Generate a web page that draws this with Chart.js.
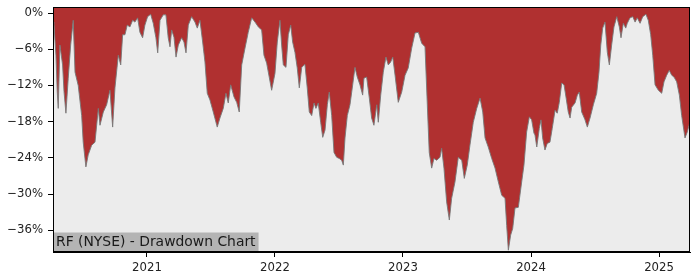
<!DOCTYPE html>
<html>
<head>
<meta charset="utf-8">
<script src="https://cdn.jsdelivr.net/npm/chart.js@4"></script>
<style>
  html, body { margin: 0; padding: 0; background: #fff; }
  #wrap { width: 700px; height: 280px; }
</style>
</head>
<body>
<div id="wrap"><canvas id="chart"></canvas></div>
<script>
// decimal years
const years = [
  2020.266, 2020.273, 2020.289, 2020.299, 2020.307, 2020.320, 2020.341, 2020.352, 2020.367, 2020.385,
  2020.404, 2020.424, 2020.438, 2020.463, 2020.490, 2020.502, 2020.523, 2020.541, 2020.568, 2020.594,
  2020.620, 2020.633, 2020.659, 2020.685, 2020.711, 2020.732, 2020.750, 2020.776, 2020.795, 2020.810,
  2020.828, 2020.846, 2020.867, 2020.888, 2020.906, 2020.927, 2020.945, 2020.966, 2020.984, 2021.005,
  2021.029, 2021.049, 2021.070, 2021.084, 2021.102, 2021.127, 2021.148, 2021.166, 2021.180, 2021.193,
  2021.211, 2021.227, 2021.245, 2021.271, 2021.289, 2021.305, 2021.323, 2021.349, 2021.375, 2021.393,
  2021.414, 2021.435, 2021.453, 2021.471, 2021.492, 2021.518, 2021.549, 2021.570, 2021.596, 2021.617,
  2021.635, 2021.654, 2021.680, 2021.701, 2021.721, 2021.740, 2021.766, 2021.791, 2021.818, 2021.844,
  2021.870, 2021.896, 2021.914, 2021.935, 2021.955, 2021.974, 2022.000, 2022.018, 2022.039, 2022.052,
  2022.065, 2022.086, 2022.104, 2022.123, 2022.138, 2022.156, 2022.174, 2022.190, 2022.209, 2022.234,
  2022.252, 2022.268, 2022.287, 2022.305, 2022.320, 2022.338, 2022.357, 2022.373, 2022.391, 2022.409,
  2022.424, 2022.443, 2022.461, 2022.482, 2022.502, 2022.521, 2022.534, 2022.547, 2022.565, 2022.586,
  2022.607, 2022.625, 2022.643, 2022.664, 2022.685, 2022.695, 2022.716, 2022.737, 2022.755, 2022.773,
  2022.795, 2022.807, 2022.826, 2022.846, 2022.867, 2022.885, 2022.904, 2022.920, 2022.938, 2022.963,
  2022.990, 2023.016, 2023.041, 2023.068, 2023.094, 2023.120, 2023.146, 2023.172, 2023.190, 2023.205,
  2023.224, 2023.242, 2023.263, 2023.289, 2023.302, 2023.320, 2023.341, 2023.362, 2023.380, 2023.406,
  2023.432, 2023.459, 2023.479, 2023.502, 2023.523, 2023.549, 2023.576, 2023.602, 2023.623, 2023.641,
  2023.666, 2023.693, 2023.719, 2023.745, 2023.771, 2023.797, 2023.810, 2023.823, 2023.841, 2023.857,
  2023.875, 2023.901, 2023.927, 2023.945, 2023.966, 2023.987, 2024.005, 2024.023, 2024.031, 2024.045,
  2024.065, 2024.078, 2024.091, 2024.109, 2024.127, 2024.148, 2024.166, 2024.188, 2024.205, 2024.221,
  2024.240, 2024.258, 2024.273, 2024.291, 2024.305, 2024.318, 2024.344, 2024.362, 2024.377, 2024.396,
  2024.422, 2024.440, 2024.461, 2024.487, 2024.513, 2024.531, 2024.545, 2024.560, 2024.578, 2024.596,
  2024.612, 2024.630, 2024.648, 2024.670, 2024.690, 2024.703, 2024.721, 2024.740, 2024.752, 2024.773,
  2024.795, 2024.813, 2024.830, 2024.852, 2024.873, 2024.898, 2024.916, 2024.935, 2024.951, 2024.969,
  2024.995, 2025.021, 2025.039, 2025.060, 2025.080, 2025.099, 2025.117, 2025.138, 2025.159, 2025.177,
  2025.203, 2025.221, 2025.240
];

// drawdown in percent
const drawdown = [
  -1.5, -1.7, -7.0, -13.0, -15.8, -5.3, -8.6, -13.0, -16.6, -10.8,
  -5.3, -1.2, -9.8, -12.0, -17.0, -21.4, -25.5, -23.5, -21.9, -21.4,
  -15.8, -18.6, -16.4, -15.2, -12.8, -18.9, -12.4, -7.0, -8.6, -3.6,
  -3.6, -2.0, -2.3, -1.2, -1.5, -0.8, -3.2, -4.1, -2.0, -0.6,
  -0.2, -1.7, -4.1, -6.6, -1.2, -0.3, -0.3, -4.1, -5.6, -2.8,
  -4.0, -7.3, -5.3, -4.1, -4.8, -6.6, -2.0, -0.6, -1.5, -2.5,
  -1.2, -4.8, -8.1, -13.3, -14.4, -16.4, -18.9, -17.4, -15.8, -13.3,
  -14.9, -11.9, -13.9, -14.8, -16.4, -8.6, -5.8, -3.2, -0.8, -1.5,
  -2.3, -2.8, -7.0, -8.3, -10.6, -12.8, -10.0, -4.8, -1.2, -5.3,
  -8.6, -9.0, -3.6, -2.0, -4.8, -6.5, -9.1, -12.4, -9.0, -8.5,
  -12.4, -16.4, -17.0, -14.9, -15.8, -14.9, -18.1, -20.6, -19.4, -15.2,
  -13.1, -17.0, -23.1, -23.9, -24.1, -24.4, -25.2, -20.7, -17.0, -15.2,
  -11.9, -9.0, -10.6, -11.9, -13.6, -10.8, -10.6, -14.1, -17.4, -18.6,
  -15.2, -18.1, -13.6, -9.8, -7.3, -8.6, -8.1, -7.3, -10.3, -14.8,
  -13.1, -10.3, -9.1, -5.8, -3.3, -3.2, -5.0, -5.6, -15.2, -23.1,
  -25.7, -24.1, -24.4, -23.9, -22.4, -25.7, -31.3, -34.3, -30.7, -28.0,
  -23.9, -24.4, -27.4, -25.2, -21.9, -18.1, -15.8, -14.1, -16.4, -20.7,
  -22.2, -24.1, -25.7, -28.0, -30.2, -30.7, -35.2, -39.3, -36.8, -35.7,
  -32.3, -32.2, -28.0, -25.2, -19.7, -17.2, -17.7, -19.9, -20.2, -22.2,
  -19.1, -17.7, -20.7, -22.7, -21.6, -21.4, -19.1, -16.1, -16.6, -14.8,
  -11.6, -11.9, -13.9, -16.4, -17.4, -15.6, -14.9, -13.6, -13.1, -16.4,
  -17.7, -18.9, -17.4, -15.2, -13.3, -9.8, -5.3, -2.5, -1.5, -6.5,
  -8.6, -5.3, -2.3, -0.6, -2.3, -4.1, -1.7, -2.5, -1.7, -0.8,
  -0.6, -1.5, -0.8, -1.7, -0.6, -0.2, -1.2, -3.6, -7.0, -11.9,
  -12.8, -13.3, -11.4, -10.3, -9.5, -10.3, -10.6, -11.4, -13.6, -17.0,
  -20.7, -19.7, -18.2
];

const yearTicks = [2021, 2022, 2023, 2024, 2025];
const pctTicks = [0, -6, -12, -18, -24, -30, -36];
const title = 'RF (NYSE) - Drawdown Chart';

const points = years.map((x, i) => ({ x: x, y: drawdown[i] }));

const frame = {
  id: 'frame',
  beforeDraw(chart) {
    const a = chart.chartArea, c = chart.ctx;
    c.save();
    c.fillStyle = '#ececec';
    c.fillRect(a.left, a.top, a.right - a.left, a.bottom - a.top);
    c.restore();
  },
  afterDraw(chart) {
    const a = chart.chartArea, c = chart.ctx;
    c.save();
    c.font = '13.9px "DejaVu Sans"';
    const w = c.measureText(title).width;
    c.fillStyle = '#b4b4b4';
    c.fillRect(a.left, a.bottom - 19.5, w + 6, 19.5);
    c.fillStyle = '#1a1a1a';
    c.textBaseline = 'middle';
    c.fillText(title, a.left + 3, a.bottom - 9.5);
    c.strokeStyle = '#000';
    c.lineWidth = 1;
    c.strokeRect(a.left + 0.5, a.top + 0.5, a.right - a.left - 1, a.bottom - a.top - 1);
    c.restore();
  }
};

new Chart(document.getElementById('chart'), {
  type: 'line',
  data: {
    datasets: [{
      data: points,
      fill: 'end',
      backgroundColor: '#b03030',
      borderColor: 'rgba(120,120,120,0.9)',
      borderWidth: 1,
      pointRadius: 0,
      tension: 0
    }]
  },
  options: {
    responsive: true,
    maintainAspectRatio: false,
    animation: false,
    layout: { padding: { top: 7, right: 10, left: 0, bottom: 0 } },
    plugins: { legend: { display: false }, tooltip: { enabled: false } },
    scales: {
      x: {
        type: 'linear',
        min: 2020.266,
        max: 2025.242,
        afterBuildTicks: s => { s.ticks = yearTicks.map(v => ({ value: v })); },
        afterFit: s => { s.height = 28; s.paddingLeft = 0; s.paddingRight = 0; },
        ticks: {
          color: '#222',
          font: { family: 'DejaVu Sans', size: 11.7 },
          padding: 4,
          maxRotation: 0,
          callback: v => String(v)
        },
        grid: { drawOnChartArea: false, tickLength: 5, color: '#000' },
        border: { color: '#000' }
      },
      y: {
        min: -39.6,
        max: 1.0,
        afterBuildTicks: s => { s.ticks = pctTicks.map(v => ({ value: v })); },
        afterFit: s => { s.width = 53; s.paddingTop = 0; s.paddingBottom = 0; },
        ticks: {
          color: '#222',
          font: { family: 'DejaVu Sans', size: 11.7 },
          padding: 5,
          callback: v => v === 0 ? '0%' : '\u2212' + Math.abs(v) + '%'
        },
        grid: { drawOnChartArea: false, tickLength: 5, color: '#000' },
        border: { color: '#000' }
      }
    }
  },
  plugins: [frame]
});
</script>
</body>
</html>
